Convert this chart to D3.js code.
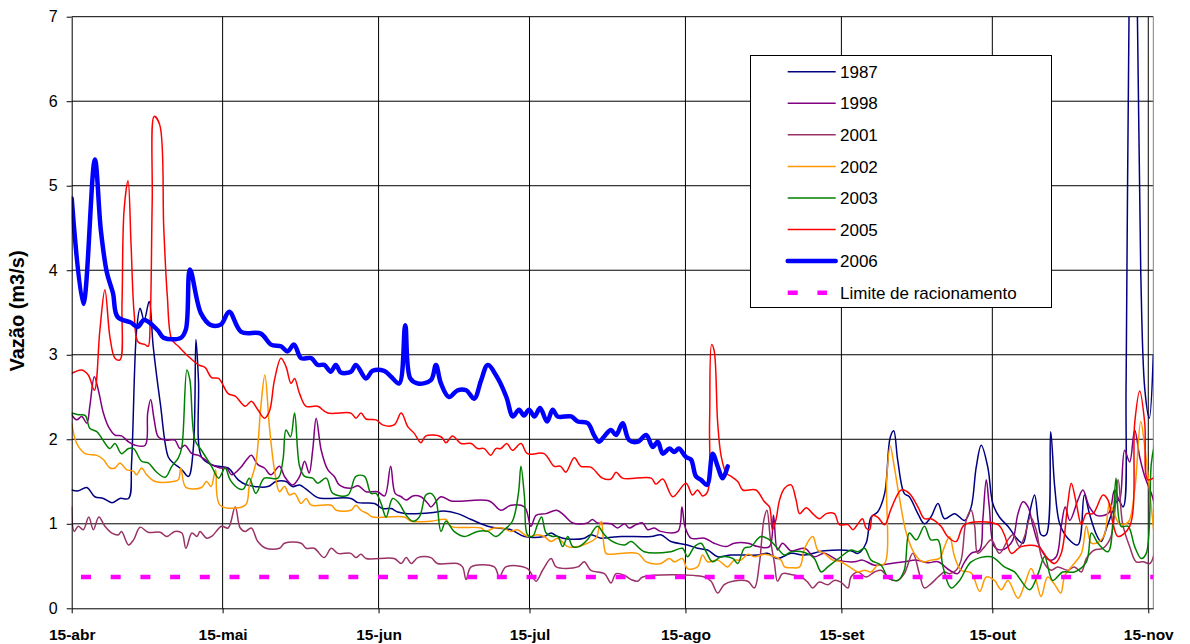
<!DOCTYPE html>
<html lang="pt">
<head>
<meta charset="utf-8">
<title>Vazão</title>
<script src="https://cdnjs.cloudflare.com/ajax/libs/d3/7.8.5/d3.min.js"></script>
<style>
  body { margin: 0; background: #fff; }
  svg { display: block; font-family: "Liberation Sans", Arial, sans-serif; }
</style>
</head>
<body>
<div id="chart"></div>
<script>
// days counted from 15-abr, flow in m3/s
var tickDays = [0, 30, 61, 91, 122, 153, 183, 214];
var tickLabels = ["15-abr", "15-mai", "15-jun", "15-jul", "15-ago", "15-set", "15-out", "15-nov"];
var yTicks = [0, 1, 2, 3, 4, 5, 6, 7];

var s1987 = [[0,1.40],[1.3,1.39],[3.0,1.43],[4.6,1.32],[6.3,1.30],[8.0,1.25],[9.6,1.30],[11.3,1.30],[11.9,1.72],[12.9,3.29],[13.6,3.55],[14.4,3.41],[15.4,3.63],[16.2,3.10],[17.6,2.43],[19.2,1.79],[20.2,1.72],[21.9,1.64],[23.2,1.56],[24.2,1.91],[24.7,3.18],[25.2,2.70],[25.8,1.79],[27.8,1.70],[29.2,1.68],[31.1,1.66],[33.1,1.52],[34.8,1.46],[39.0,1.44],[40.6,1.50],[42.6,1.50],[43.9,1.44],[45.3,1.46],[46.6,1.41],[48.9,1.31],[50.6,1.30],[55.5,1.30],[56.9,1.25],[60.2,1.24],[61.8,1.18],[63.5,1.18],[64.8,1.14],[66.8,1.12],[71.4,1.13],[74.0,1.15],[76.7,1.12],[79.4,1.05],[82.7,0.97],[84.7,0.95],[87.3,0.93],[90.0,0.85],[93.9,0.85],[95.3,0.89],[96.6,0.85],[98.6,0.82],[101.9,0.83],[103.2,0.87],[105.2,0.83],[107.2,0.84],[109.2,0.85],[115.2,0.85],[117.1,0.87],[119.1,0.79],[122.4,0.75],[124.4,0.71],[126.4,0.69],[128.4,0.61],[131.1,0.63],[136.4,0.63],[138.3,0.65],[140.3,0.59],[143.0,0.65],[145.7,0.63],[149.6,0.68],[154.9,0.68],[156.3,0.65],[157.9,0.77],[158.9,1.08],[160.2,1.14],[161.6,1.36],[162.7,2.02],[163.4,2.10],[164.2,1.75],[165.5,1.36],[166.5,1.32],[168.2,1.12],[169.5,1.00],[170.8,1.08],[172.2,1.24],[173.5,1.06],[175.5,1.12],[177.5,1.04],[178.8,1.20],[179.8,1.67],[180.8,1.93],[182.1,1.67],[183.1,1.24],[184.4,1.08],[186.1,0.97],[188.1,0.81],[189.1,0.77],[190.1,1.04],[191.4,1.34],[192.1,1.04],[192.7,0.87],[193.7,0.87],[194.6,2.09],[195.4,1.44],[196.4,1.00],[198.0,0.83],[200.0,0.75],[201.3,1.34],[202.3,1.12],[203.7,0.87],[204.6,0.79],[206.0,1.00],[208.0,1.28],[209.0,1.20],[209.6,2.70],[210.2,7.2],[211.0,8.8],[211.8,7.2],[212.5,4.0],[213.3,2.6],[214.2,2.25],[215,3.0]];

var s1998 = [[0,2.29],[1.0,2.23],[2.0,2.27],[3.0,2.19],[3.6,2.39],[4.5,2.74],[5.3,2.58],[6.3,2.31],[7.3,2.15],[8.6,2.05],[9.9,2.04],[11.3,1.97],[12.6,1.93],[14.6,1.93],[15.1,2.31],[15.7,2.47],[16.4,2.23],[17.2,2.03],[18.6,1.99],[20.5,1.99],[21.5,1.89],[22.5,1.93],[23.9,1.83],[25.2,1.81],[26.5,1.76],[27.8,1.70],[29.5,1.66],[30.8,1.66],[31.8,1.58],[33.5,1.66],[34.8,1.76],[35.7,1.81],[37.0,1.70],[38.3,1.66],[39.6,1.58],[41.3,1.68],[42.3,1.56],[43.9,1.46],[45.3,1.56],[46.3,1.74],[47.2,1.60],[47.9,1.87],[48.6,2.25],[49.6,1.87],[50.9,1.64],[52.2,1.56],[53.2,1.46],[55.5,1.42],[56.9,1.45],[58.5,1.38],[60.8,1.38],[62.2,1.33],[63.4,1.68],[64.3,1.36],[65.5,1.32],[66.5,1.28],[67.8,1.33],[69.4,1.32],[70.8,1.24],[71.4,1.20],[73.4,1.32],[75.4,1.27],[83.0,1.27],[85.3,1.16],[87.3,1.22],[90.0,1.20],[91.3,0.97],[92.3,1.10],[94.3,1.12],[96.4,1.16],[97.9,1.10],[99.6,1.01],[102.5,1.01],[103.5,1.05],[104.5,1.01],[107.2,1.00],[108.5,0.95],[109.9,1.00],[110.8,0.95],[112.2,0.99],[113.5,1.01],[114.5,0.93],[115.8,0.95],[117.1,0.91],[120.5,0.91],[121.3,1.20],[121.9,0.97],[123.1,0.83],[125.8,0.83],[127.7,0.77],[130.1,0.73],[131.7,0.77],[134.4,0.77],[136.4,0.73],[138.7,0.73],[139.5,1.10],[140.3,0.69],[141.3,0.77],[143.0,0.68],[145.7,0.71],[147.6,0.61],[149.6,0.65],[152.3,0.57],[155.6,0.55],[157.2,0.57],[159.6,0.51],[162.9,0.53],[165.5,0.55],[167.9,0.57],[170.2,0.54],[172.2,0.55],[174.5,0.45],[176.1,0.41],[177.5,0.55],[178.8,0.65],[180.5,0.69],[181.1,1.04],[181.8,1.52],[182.4,1.20],[183.4,0.73],[184.8,0.69],[186.1,0.73],[187.1,0.81],[188.1,1.12],[189.1,1.26],[190.1,1.20],[191.1,0.97],[192.4,0.73],[194.4,0.57],[195.7,0.61],[196.7,0.97],[197.5,1.20],[198.4,1.04],[200.0,1.28],[201.0,1.40],[202.3,1.20],[203.7,1.10],[205.3,1.10],[206.3,1.14],[207.3,1.40],[208.3,1.28],[209.3,1.87],[210.3,1.73],[211.3,2.11],[212.3,1.79],[213.3,1.56],[214.6,1.36],[215.2,1.24]];

var s2001 = [[0,1.20],[0.5,0.91],[1.3,0.97],[2.3,0.93],[3.4,1.08],[4.3,0.93],[5.4,1.08],[6.6,0.97],[8.0,0.89],[9.3,0.87],[9.9,0.91],[11.3,0.75],[12.3,0.81],[13.6,0.96],[15.2,0.90],[17.6,0.90],[18.9,0.85],[20.5,0.91],[21.9,0.89],[22.7,0.71],[23.9,0.89],[24.9,0.85],[25.5,0.91],[26.8,0.83],[27.8,0.85],[29.8,0.97],[31.1,0.95],[32.5,1.20],[33.5,0.95],[34.5,0.91],[35.7,0.95],[37.0,0.79],[38.6,0.71],[41.3,0.71],[42.3,0.77],[45.6,0.77],[46.6,0.71],[48.2,0.71],[50.2,0.60],[51.6,0.71],[52.9,0.65],[55.5,0.65],[56.5,0.60],[57.5,0.64],[58.5,0.59],[64.1,0.59],[65.5,0.53],[66.5,0.60],[67.5,0.53],[68.8,0.60],[71.4,0.60],[72.7,0.53],[76.7,0.53],[77.7,0.49],[78.4,0.34],[79.4,0.49],[84.0,0.49],[85.0,0.37],[86.3,0.49],[90.6,0.47],[92.3,0.32],[93.6,0.45],[95.3,0.59],[96.3,0.49],[100.6,0.49],[101.9,0.55],[103.2,0.45],[105.9,0.41],[107.2,0.30],[108.2,0.41],[109.9,0.39],[111.2,0.34],[112.5,0.32],[113.5,0.37],[125.8,0.37],[127.1,0.32],[128.4,0.18],[129.7,0.28],[131.4,0.32],[134.4,0.32],[135.7,0.24],[136.7,0.53],[137.6,1.05],[138.2,1.16],[138.9,0.81],[139.7,0.53],[140.3,0.32],[141.3,0.41],[143.0,0.40],[145.0,0.37],[146.3,0.31],[147.3,0.24],[148.6,0.31],[150.3,0.28],[151.6,0.33],[152.9,0.31],[154.3,0.24],[154.9,0.37],[156.3,0.43],[157.9,0.37],[159.6,0.43],[160.9,0.45],[162.5,0.35],[164.2,0.33],[165.5,0.41],[167.2,0.65],[168.5,0.41],[169.5,0.24],[170.8,0.29],[172.2,0.37],[173.5,0.43],[174.5,0.41],[175.8,0.45],[176.8,0.57],[177.8,1.04],[178.8,1.16],[179.5,0.97],[180.1,0.65],[181.5,0.73],[182.8,0.81],[184.4,0.65],[186.1,0.81],[187.1,0.87],[188.4,0.73],[189.4,0.85],[190.6,1.08],[191.7,0.93],[193.0,0.57],[194.7,0.45],[196.0,0.49],[198.0,0.45],[199.3,0.49],[200.7,0.43],[201.7,0.59],[203.3,0.69],[205.0,0.71],[206.6,0.85],[208.0,1.52],[208.9,1.00],[210.3,0.73],[211.6,0.55],[213.0,0.55],[214.3,0.53],[215.2,0.65]];

var s2002 = [[0,2.19],[1.0,1.95],[2.7,1.83],[5.0,1.81],[6.3,1.76],[7.6,1.66],[8.6,1.66],[9.6,1.72],[10.9,1.64],[12.3,1.62],[12.9,1.58],[13.9,1.66],[14.9,1.58],[16.6,1.50],[20.2,1.50],[21.2,1.52],[21.7,1.66],[22.7,1.43],[25.8,1.43],[26.8,1.50],[27.7,1.44],[28.6,1.64],[29.5,1.22],[34.5,1.22],[35.3,1.45],[36.6,1.72],[37.6,2.39],[38.4,2.76],[39.3,2.15],[40.3,1.64],[41.3,1.38],[42.3,1.44],[43.3,1.34],[44.3,1.36],[45.6,1.24],[46.6,1.30],[47.6,1.22],[51.6,1.22],[52.6,1.16],[55.5,1.16],[56.5,1.22],[57.5,1.16],[58.8,1.12],[59.8,1.08],[66.1,1.08],[67.5,1.03],[71.4,1.03],[74.4,1.05],[75.4,0.97],[81.4,0.95],[82.3,0.91],[84.0,0.95],[85.6,0.95],[87.3,0.91],[88.6,0.93],[90.6,0.85],[92.6,0.87],[93.9,0.85],[95.3,0.79],[96.6,0.83],[98.6,0.73],[100.6,0.73],[102.5,0.77],[104.2,0.83],[104.9,0.97],[105.3,1.03],[106.2,0.65],[107.2,0.64],[112.5,0.65],[114.2,0.55],[117.1,0.53],[118.8,0.59],[119.8,0.55],[121.4,0.59],[122.4,0.47],[124.4,0.49],[125.4,0.63],[126.4,0.55],[128.4,0.57],[129.4,0.53],[130.4,0.49],[131.7,0.57],[133.0,0.57],[134.4,0.64],[135.7,0.61],[137.7,0.64],[139.7,0.61],[141.0,0.57],[141.7,0.49],[143.0,0.48],[144.7,0.49],[145.7,0.71],[147.3,0.85],[148.3,0.69],[149.6,0.65],[151.3,0.57],[152.9,0.55],[154.6,0.49],[156.3,0.43],[157.6,0.45],[158.9,0.43],[160.2,0.51],[161.6,0.53],[162.0,1.52],[162.7,1.92],[163.5,1.68],[164.5,1.32],[165.9,0.89],[167.5,0.65],[169.2,0.55],[170.8,0.57],[172.5,0.59],[173.5,0.73],[174.5,0.85],[175.5,0.61],[176.8,0.45],[178.8,0.42],[180.5,0.20],[181.8,0.37],[183.4,0.33],[184.8,0.22],[186.1,0.33],[188.1,0.12],[189.4,0.28],[190.7,0.47],[191.7,0.33],[192.7,0.14],[194.0,0.37],[195.4,0.28],[196.6,0.18],[197.4,0.39],[198.7,0.49],[200.7,0.65],[201.7,0.97],[202.7,0.77],[204.3,0.79],[205.3,0.87],[206.3,1.24],[207.0,1.16],[208.3,1.00],[210.0,1.02],[211.3,1.40],[212.5,2.21],[213.3,1.91],[214.6,1.20],[215.2,0.85]];

var s2003 = [[0,2.31],[1.3,2.29],[2.7,2.28],[3.6,2.13],[5.0,2.09],[6.0,2.01],[7.6,1.89],[8.6,1.95],[9.9,1.83],[11.3,1.89],[12.3,1.89],[13.9,1.74],[15.2,1.72],[16.9,1.61],[18.6,1.55],[19.9,1.68],[21.2,1.78],[21.9,1.91],[22.9,2.82],[23.5,2.70],[24.5,1.99],[25.8,1.87],[27.8,1.68],[29.2,1.54],[30.5,1.66],[31.5,1.52],[33.1,1.42],[34.1,1.41],[35.3,1.54],[36.6,1.36],[38.3,1.54],[41.0,1.54],[42.0,1.76],[42.6,2.11],[43.5,2.03],[44.3,2.31],[45.3,1.68],[46.3,1.56],[47.9,1.54],[48.9,1.48],[50.6,1.54],[51.9,1.36],[54.9,1.34],[56.5,1.56],[58.2,1.56],[59.5,1.36],[60.5,1.36],[61.5,1.24],[62.5,1.08],[63.8,1.30],[65.1,1.24],[66.5,1.10],[67.8,1.03],[69.1,1.08],[70.4,1.34],[71.4,1.36],[72.4,1.28],[73.4,0.91],[74.4,1.03],[76.0,0.91],[78.0,0.85],[80.7,0.91],[82.7,0.91],[84.3,0.85],[86.0,0.93],[87.6,1.03],[88.8,1.36],[89.3,1.68],[90.0,1.32],[90.6,0.87],[91.6,0.85],[92.6,0.99],[93.4,1.08],[94.3,0.89],[95.6,0.85],[96.6,0.85],[97.6,0.73],[98.6,0.85],[99.6,0.73],[100.9,0.73],[102.5,0.81],[104.5,0.97],[105.9,0.87],[107.2,0.80],[109.9,0.75],[111.2,0.79],[113.8,0.67],[119.1,0.67],[121.4,0.71],[122.4,0.61],[123.8,0.73],[125.1,0.77],[126.1,0.67],[127.4,0.55],[129.1,0.61],[131.4,0.59],[132.4,0.53],[133.7,0.71],[135.0,0.73],[137.0,0.85],[138.7,0.81],[140.3,0.71],[141.7,0.63],[143.0,0.67],[145.7,0.66],[147.6,0.59],[149.0,0.43],[150.3,0.49],[152.9,0.61],[154.9,0.69],[156.3,0.67],[157.6,0.71],[158.9,0.57],[160.9,0.51],[162.2,0.37],[164.2,0.33],[165.5,0.45],[166.5,0.89],[167.9,0.81],[169.5,0.97],[170.8,0.81],[172.2,0.81],[173.2,0.49],[174.8,0.24],[176.5,0.33],[178.8,0.55],[182.8,0.61],[185.4,0.49],[187.4,0.43],[190.4,0.22],[192.1,0.41],[193.4,0.61],[195.0,0.33],[197.0,0.43],[199.3,0.43],[201.7,0.55],[202.7,0.89],[204.0,0.77],[206.0,0.67],[207.0,1.04],[207.6,1.54],[208.6,0.97],[210.0,0.97],[211.3,0.73],[212.6,0.59],[213.6,0.65],[214.6,1.71],[215.2,1.93]];

var s2005 = [[0,2.78],[2.0,2.82],[3.3,2.76],[4.5,2.58],[5.6,3.29],[6.6,3.77],[7.6,3.21],[8.6,2.96],[9.6,2.94],[10.0,3.6],[10.4,4.7],[11.2,5.06],[11.8,4.3],[12.4,3.5],[13.2,3.15],[14.6,3.12],[15.2,3.10],[15.6,3.4],[16.0,4.8],[16.4,5.82],[17.5,5.72],[18.3,4.5],[19.0,3.7],[19.9,3.18],[21.2,3.10],[23.2,2.98],[25.2,2.88],[26.5,2.85],[27.8,2.73],[29.2,2.72],[31.1,2.54],[32.5,2.51],[34.5,2.39],[35.7,2.45],[37.0,2.35],[38.3,2.25],[39.3,2.33],[40.3,2.70],[41.6,2.96],[42.6,2.86],[43.6,2.66],[44.3,2.72],[45.3,2.54],[46.6,2.39],[48.9,2.39],[50.9,2.31],[55.5,2.31],[56.5,2.25],[57.5,2.31],[58.5,2.24],[60.5,2.23],[61.8,2.17],[64.1,2.17],[65.5,2.31],[66.8,2.15],[68.1,2.07],[69.4,1.96],[70.4,2.04],[73.4,2.03],[74.4,1.96],[75.7,2.04],[77.4,1.95],[79.4,1.95],[80.7,1.89],[82.0,1.89],[83.3,1.81],[84.3,1.89],[85.3,1.89],[86.5,1.95],[87.6,1.87],[89.3,1.95],[90.6,1.83],[93.9,1.83],[95.9,1.68],[97.2,1.68],[98.2,1.61],[99.9,1.78],[101.2,1.68],[103.2,1.67],[105.5,1.54],[107.2,1.53],[108.2,1.61],[109.5,1.54],[115.2,1.54],[116.1,1.47],[117.5,1.53],[119.5,1.32],[122.1,1.48],[123.4,1.34],[124.4,1.40],[125.4,1.33],[126.4,1.38],[126.8,2.2],[127.2,3.12],[127.7,3.05],[128.4,2.2],[129.1,1.80],[130.1,1.60],[131.1,1.56],[132.4,1.50],[133.4,1.40],[136.0,1.40],[137.7,1.26],[138.7,1.20],[139.3,0.93],[140.0,1.05],[140.7,1.28],[141.7,1.42],[143.0,1.46],[144.0,1.28],[144.7,1.12],[146.0,1.19],[147.3,1.12],[148.6,1.06],[150.0,1.12],[151.6,1.12],[152.6,0.99],[154.3,0.99],[155.3,0.93],[156.3,1.00],[157.2,1.06],[157.9,0.95],[158.6,0.93],[159.2,1.10],[160.2,1.08],[161.6,0.99],[162.9,1.18],[164.9,1.40],[166.5,1.36],[168.2,1.20],[169.5,1.06],[170.8,1.06],[172.8,0.97],[174.1,0.85],[175.8,0.79],[177.5,0.99],[184.1,0.99],[185.4,0.87],[186.8,0.65],[188.7,0.73],[192.1,0.73],[194.0,0.59],[195.4,0.53],[196.7,0.65],[198.0,1.24],[198.7,1.48],[199.7,1.24],[200.7,0.99],[201.7,1.12],[203.0,1.12],[205.0,1.34],[206.0,1.28],[207.0,1.00],[208.0,0.85],[210.3,0.97],[211.3,2.19],[212.3,2.57],[213.3,2.19],[213.9,1.52],[215.2,1.55]];

var s2006 = [[0,4.85],[2.3,3.60],[4.6,5.31],[5.8,4.47],[7.0,3.97],[8.2,3.73],[9.1,3.45],[11.8,3.38],[13.1,3.33],[14.4,3.41],[17.1,3.29],[18.3,3.20],[21.7,3.20],[22.7,3.30],[23.5,4.01],[25.7,3.49],[27.7,3.35],[29.7,3.36],[31.3,3.51],[33.7,3.27],[37.6,3.25],[39.6,3.12],[41.6,3.10],[42.9,3.04],[44.2,3.12],[45.6,2.96],[47.6,2.96],[48.9,2.88],[50.2,2.88],[51.5,2.80],[52.5,2.88],[53.5,2.79],[55.5,2.80],[56.5,2.88],[58.5,2.72],[59.8,2.81],[62.1,2.81],[63.5,2.74],[65.1,2.66],[66.3,3.35],[67.3,2.72],[68.8,2.66],[71.4,2.70],[72.4,2.88],[73.4,2.66],[75.0,2.50],[76.7,2.58],[78.4,2.58],[80.0,2.48],[81.4,2.70],[82.7,2.88],[84.7,2.72],[86.4,2.50],[87.7,2.27],[88.9,2.35],[89.9,2.28],[90.9,2.35],[92.0,2.27],[93.1,2.37],[94.5,2.21],[95.6,2.35],[96.6,2.27],[99.3,2.27],[100.6,2.21],[102.6,2.19],[103.8,2.05],[104.8,1.97],[105.8,2.03],[107.2,2.11],[108.2,2.05],[109.5,2.19],[110.8,1.99],[112.5,1.97],[114.2,2.05],[115.5,1.91],[116.5,1.97],[117.5,1.83],[118.8,1.89],[119.8,1.85],[120.7,1.89],[122.1,1.79],[123.1,1.76],[124.1,1.56],[125.1,1.52],[126.3,1.46],[127.4,1.83],[128.4,1.68],[129.4,1.54],[130.4,1.68]];

var sLimite = [[0,0.37],[215,0.37]];

var seriesNames = ["1987", "1998", "2001", "2002", "2003", "2005", "2006", "Limite de racionamento"];
var seriesData = [s1987, s1998, s2001, s2002, s2003, s2005, s2006, sLimite];
var seriesColors = ["#000080", "#800080", "#993366", "#FF9900", "#008000", "#FF0000", "#0000FF", "#FF00FF"];
var seriesWidths = [1.5, 1.5, 1.5, 1.5, 1.5, 1.5, 4.5, 4.5];

var width = 1190, height = 644;
var plotLeft = 71.7, plotRight = 1153.3, plotTop = 16.7, plotBottom = 608.3;

var svg = d3.select("#chart").append("svg")
    .attr("width", width)
    .attr("height", height);

svg.append("rect").attr("width", width).attr("height", height).attr("fill", "#fff");

var x = d3.scaleLinear().domain([0, 215]).range([plotLeft, plotRight]);
var y = d3.scaleLinear().domain([0, 7]).range([plotBottom, plotTop]);

// grid
svg.append("g").selectAll("line")
    .data(yTicks.slice(1))
    .enter().append("line")
    .attr("x1", plotLeft).attr("x2", plotRight)
    .attr("y1", function(d){ return y(d); })
    .attr("y2", function(d){ return y(d); })
    .attr("stroke", "#000").attr("stroke-width", 1);

svg.append("g").selectAll("line")
    .data(tickDays.slice(1))
    .enter().append("line")
    .attr("x1", function(d){ return x(d); })
    .attr("x2", function(d){ return x(d); })
    .attr("y1", plotTop).attr("y2", plotBottom)
    .attr("stroke", "#000").attr("stroke-width", 1);

// right border of plot area
svg.append("line")
    .attr("x1", plotRight).attr("x2", plotRight).attr("y1", plotTop).attr("y2", plotBottom)
    .attr("stroke", "#808080").attr("stroke-width", 1);

svg.append("clipPath").attr("id", "plot")
    .append("rect")
    .attr("x", plotLeft).attr("y", plotTop)
    .attr("width", plotRight - plotLeft).attr("height", plotBottom - plotTop);

var line = d3.line()
    .x(function(d){ return x(d[0]); })
    .y(function(d){ return y(d[1]); })
    .curve(d3.curveCatmullRom.alpha(0.5));

var lines = svg.append("g").attr("clip-path", "url(#plot)");
seriesData.forEach(function(s, i){
    var p = lines.append("path")
        .datum(s)
        .attr("d", line)
        .attr("fill", "none")
        .attr("stroke", seriesColors[i])
        .attr("stroke-width", seriesWidths[i])
        .attr("stroke-linejoin", "round")
        .attr("stroke-linecap", "round");
    if (i == 7) {
        p.attr("stroke-dasharray", "10,19.7")
         .attr("stroke-dashoffset", 20.4)
         .attr("stroke-linecap", "butt");
    }
});

// axes
var yAxis = d3.axisLeft(y).tickValues(yTicks).tickFormat(d3.format("d"))
    .tickSize(5).tickSizeOuter(0).tickPadding(9);
var gy = svg.append("g")
    .attr("transform", "translate(" + plotLeft + ",0)")
    .call(yAxis);
gy.selectAll("text").attr("font-size", 16).attr("fill", "#000").attr("font-family", "Liberation Sans, Arial, sans-serif");
gy.selectAll("line, path").attr("stroke", "#000");

var xAxis = d3.axisBottom(x).tickValues(tickDays)
    .tickFormat(function(d, i){ return tickLabels[i]; })
    .tickSize(5).tickSizeOuter(0).tickPadding(16);
var gx = svg.append("g")
    .attr("transform", "translate(0," + plotBottom + ")")
    .call(xAxis);
gx.selectAll("text").attr("font-size", 15.5).attr("font-weight", "bold").attr("fill", "#000")
    .attr("font-family", "Liberation Sans, Arial, sans-serif");
gx.selectAll("line, path").attr("stroke", "#000");

svg.append("text")
    .attr("transform", "translate(24,311) rotate(-90)")
    .attr("text-anchor", "middle")
    .attr("font-size", 20)
    .attr("font-weight", "bold")
    .text("Vazão (m3/s)");

// legend
var lg = svg.append("g");
lg.append("rect")
    .attr("x", 750.5).attr("y", 55.5).attr("width", 301).attr("height", 252)
    .attr("fill", "#fff").attr("stroke", "#000").attr("stroke-width", 1);

seriesNames.forEach(function(name, i){
    var yy = 71.7 + i * 31.57;
    var l = lg.append("line")
        .attr("x1", 787.7).attr("x2", i == 7 ? 827 : 835.7)
        .attr("y1", yy).attr("y2", yy)
        .attr("stroke", seriesColors[i])
        .attr("stroke-width", i == 6 ? 4.5 : (i == 7 ? 4.5 : 1.5))
        .attr("stroke-linecap", i == 6 ? "round" : "butt");
    if (i == 7) l.attr("stroke-dasharray", "10,19.7");
    lg.append("text")
        .attr("x", 840).attr("y", yy).attr("dy", "0.36em")
        .attr("font-size", 17)
        .text(name);
});
</script>
</body>
</html>
